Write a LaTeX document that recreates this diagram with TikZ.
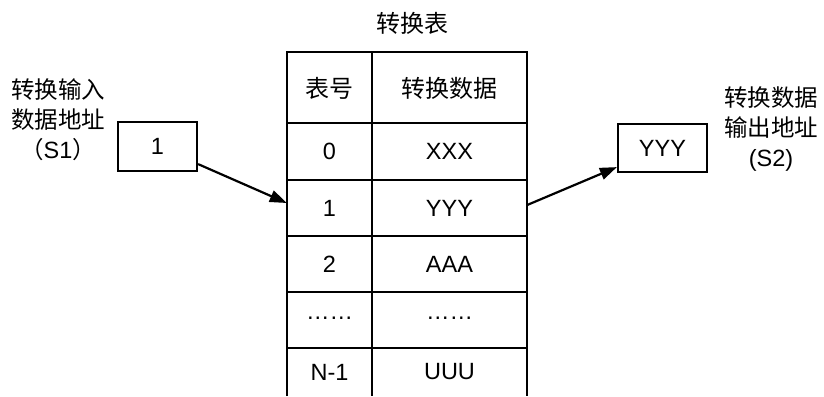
\documentclass[tikz,border=0pt]{standalone}
\usepackage{fontspec}
\setmainfont{Liberation Sans}
\newfontfamily\cjk{Noto Sans CJK SC}
\usetikzlibrary{arrows.meta}
\tikzset{
  txt/.style={inner sep=0pt, font=\fontsize{23.5}{28}\selectfont},
  ctxt/.style={inner sep=0pt, font=\fontsize{24}{30}\selectfont\cjk},
  lbl/.style={inner sep=0pt, align=center, font=\fontsize{23.5}{30}\selectfont\cjk},
  boxn/.style={draw, line width=2.2pt, inner sep=0pt, font=\fontsize{23.5}{28}\selectfont},
  grid/.style={line width=2.2pt},
  arr/.style={line width=2.2pt, -{Triangle[length=17pt,width=12pt]}}
}
\begin{document}
\begin{tikzpicture}[x=1pt,y=-1pt]
\useasboundingbox (0,0) rectangle (824,396);
% title
\node[ctxt] (title) at (412,23) {转换表};
% table grid
\draw[grid] (287,396) -- (287,52) -- (527,52) -- (527,396);
\draw[grid] (372,52) -- (372,396);
\foreach \y in {123,180,236,292,348} \draw[grid] (287,\y) -- (527,\y);
% cells
\node[ctxt] (h1) at (329.5,88) {表号};
\node[ctxt] (h2) at (449.5,88) {转换数据};
\node[txt] (r0a) at (329.5,151) {0};
\node[txt] (r0b) at (449.5,151) {XXX};
\node[txt, minimum width=85pt, minimum height=56pt] (r1a) at (329.5,208) {1};
\node[txt, minimum width=155pt, minimum height=56pt] (r1b) at (449.5,208) {YYY};
\node[txt] (r2a) at (329.5,264) {2};
\node[txt] (r2b) at (449.5,264) {AAA};
\node[txt] (r3a) at (329.5,318) {……};
\node[txt] (r3b) at (449.5,318) {……};
\node[txt] (r4a) at (329.5,372) {N-1};
\node[txt] (r4b) at (449.5,372) {UUU};
% input box
\node[boxn, minimum width=79pt, minimum height=49pt] (in1) at (157.5,146.5) {1};
\node[lbl] (inlbl) at (58,120) {转换输入\\数据地址\\（{\fontspec{Liberation Sans}S1}）};
% output box
\node[boxn, minimum width=89pt, minimum height=48pt] (out) at (662.5,148) {YYY};
\node[lbl] (outlbl) at (771,129) {转换数据\\输出地址\\{\fontspec{Liberation Sans}(S2)}};
% arrows
\draw[arr] ([yshift=8pt]in1.south east) -- ([yshift=5pt]r1a.west);
\draw[arr] ([yshift=3pt]r1b.east) -- ([yshift=6pt]out.south west);
\end{tikzpicture}
\end{document}
